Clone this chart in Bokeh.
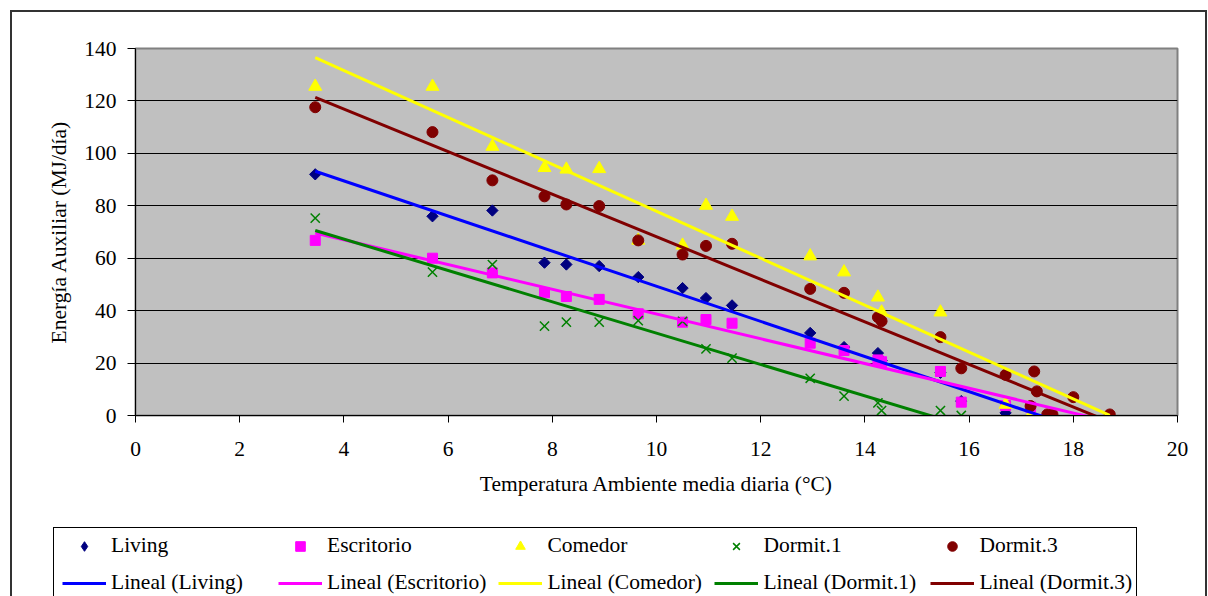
import math
from bokeh.plotting import figure
from bokeh.models import (Range1d, FixedTicker, Legend, LegendItem, InlineStyleSheet)
from bokeh.embed import file_html
from bokeh.resources import INLINE

# ---- data ----
living_x = [3.45, 5.7, 6.85, 7.85, 8.27, 8.9, 9.65, 10.5, 10.95, 11.45, 12.95, 13.6, 14.25, 14.32, 15.45, 15.85, 16.7]
living_y = [92.0, 76.0, 78.2, 58.3, 57.6, 57.0, 52.8, 48.6, 44.8, 42.0, 31.5, 26.1, 23.8, 21.0, 16.3, 5.5, 1.0]

escritorio_x = [3.45, 5.7, 6.85, 7.85, 8.27, 8.9, 9.65, 10.5, 10.95, 11.45, 12.95, 13.6, 14.25, 14.32, 15.45, 15.85, 16.7, 17.18]
escritorio_y = [66.8, 60.0, 54.4, 46.8, 45.4, 44.3, 38.8, 35.6, 36.6, 35.2, 27.6, 24.8, 21.2, 20.5, 16.8, 5.1, 3.8, 3.2]

comedor_x = [3.45, 5.7, 6.85, 7.85, 8.27, 8.9, 9.65, 10.5, 10.95, 11.45, 12.95, 13.6, 14.25, 14.32, 15.45, 16.7, 17.18]
comedor_y = [125.5, 125.5, 102.6, 94.5, 93.9, 94.1, 66.8, 64.9, 80.1, 75.9, 60.8, 54.7, 45.1, 39.4, 39.4, 4.2, 0.0]

dormit1_x = [3.45, 5.7, 6.85, 7.85, 8.27, 8.9, 9.65, 10.5, 10.95, 11.45, 12.95, 13.6, 14.25, 14.32, 15.45, 15.85]
dormit1_y = [75.3, 54.7, 57.6, 34.1, 35.6, 35.6, 36.2, 35.9, 25.4, 21.9, 14.2, 7.4, 4.8, 1.9, 1.9, 0.0]

dormit3_x = [3.45, 5.7, 6.85, 7.85, 8.27, 8.9, 9.65, 10.5, 10.95, 11.45, 12.95, 13.6, 14.25, 14.32, 15.45, 15.85,
             16.7, 17.18, 17.25, 17.3, 17.5, 17.6, 18.0, 18.7]
dormit3_y = [117.6, 108.1, 89.7, 83.6, 80.5, 79.9, 66.8, 61.4, 64.7, 65.5, 48.3, 46.8, 37.5, 36.0, 29.9, 18.0,
             15.5, 3.6, 16.8, 9.2, 0.4, 0.4, 7.0, 0.4]

series_names = ["Living", "Escritorio", "Comedor", "Dormit.1", "Dormit.3"]
# linear trend lines (Lineal): y = slope * x + intercept
trend_slope = [-6.70, -4.72, -8.95, -5.98, -8.12]
trend_intercept = [116.3, 85.9, 167.4, 91.2, 149.4]

x_ticks = [0, 2, 4, 6, 8, 10, 12, 14, 16, 18, 20]
y_ticks = [0, 20, 40, 60, 80, 100, 120, 140]

FONT = "Liberation Serif"
FS = "21.5px"

marker_styles = [
    dict(marker="square", angle=math.pi / 4, size=8, color="#000080"),
    dict(marker="square", size=10, color="#FF00FF"),
    dict(marker="triangle", size=13, color="#FFFF00"),
    dict(marker="x", size=13, line_color="#008000", line_width=1.5),
    dict(marker="circle", size=11, color="#800000"),
]
key_styles = [dict(marker="diamond", color="#000080")] + marker_styles[1:]
line_colors = ["#0000FF", "#FF00FF", "#FFFF00", "#008000", "#800000"]

series_x = [living_x, escritorio_x, comedor_x, dormit1_x, dormit3_x]
series_y = [living_y, escritorio_y, comedor_y, dormit1_y, dormit3_y]
x_lo = min(dormit3_x)
x_hi = max(dormit3_x)
trend_x = [x_lo, x_hi]
trend_y = [[m * x_lo + b, m * x_hi + b] for m, b in zip(trend_slope, trend_intercept)]

# ---------------- main chart ----------------
p = figure(width=1208, height=596, output_backend="svg", toolbar_location=None,
           x_range=Range1d(0, 20), y_range=Range1d(0, 140),
           min_border_left=135, min_border_right=31, min_border_top=48, min_border_bottom=181)
p.background_fill_color = "#C0C0C0"
p.border_fill_color = "white"
p.outline_line_color = "#808080"
p.outline_line_width = 2

p.xgrid.visible = False
p.ygrid.ticker = FixedTicker(ticks=y_ticks)
p.ygrid.grid_line_color = "#000000"
p.ygrid.grid_line_width = 1

for ax in (p.xaxis[0], p.yaxis[0]):
    ax.axis_line_color = "black"
    ax.major_tick_line_color = "black"
    ax.minor_tick_line_color = None
    ax.major_tick_in = 0
    ax.major_label_text_font = FONT
    ax.major_label_text_font_size = FS
    ax.major_label_text_color = "black"
    ax.axis_label_text_font = FONT
    ax.axis_label_text_font_size = FS
    ax.axis_label_text_font_style = "normal"
    ax.axis_label_text_color = "black"

p.xaxis.ticker = FixedTicker(ticks=x_ticks)
p.yaxis.ticker = FixedTicker(ticks=y_ticks)
p.xaxis.major_tick_out = 7
p.yaxis.major_tick_out = 8
p.xaxis.major_label_standoff = 19
p.yaxis.major_label_standoff = 11
p.xaxis.axis_label = "Temperatura Ambiente media diaria (°C)"
p.yaxis.axis_label = "Energía Auxiliar (MJ/día)"
p.xaxis.axis_label_standoff = 13
p.yaxis.axis_label_standoff = 10

for xs, ys, st in zip(series_x, series_y, marker_styles):
    p.scatter(xs, ys, **st)
for ys, c in zip(trend_y, line_colors):
    p.line(trend_x, ys, line_color=c, line_width=3)

p.stylesheets = [InlineStyleSheet(css="""
:host { position: relative; }
:host::before { content: ""; position: absolute; left: 10px; top: 10px; width: 1197px; height: 586px;
  border: 2px solid #333; border-bottom: none; box-sizing: border-box; pointer-events: none; z-index: 5; }
""")]

# ---------------- legend strip (overlaid on the bottom of the chart) ----------------
# its own ranges keep the key renderers' data out of view; only the legend shows
lg = figure(width=1208, height=76, output_backend="svg", toolbar_location=None,
            x_range=Range1d(-1000, -999), y_range=Range1d(-1000, -999),
            min_border_left=0, min_border_right=0, min_border_top=0, min_border_bottom=0,
            x_axis_type=None, y_axis_type=None)
lg.grid.visible = False
lg.outline_line_color = None
lg.background_fill_color = None
lg.border_fill_color = None

key_markers = [lg.scatter(xs, ys, **st) for xs, ys, st in zip(series_x, series_y, key_styles)]
key_lines = [lg.line(trend_x, ys, line_color=c, line_width=3) for ys, c in zip(trend_y, line_colors)]

items = [LegendItem(label=n, renderers=[r]) for n, r in zip(series_names, key_markers)]
items += [LegendItem(label="Lineal (%s)" % n, renderers=[r]) for n, r in zip(series_names, key_lines)]

legend = Legend(items=items, orientation="horizontal", ncols=5,
                location=(62, 1), padding=0, margin=0, spacing=12,
                glyph_width=44, glyph_height=24, label_height=24, label_width=155, label_standoff=5,
                label_text_font=FONT, label_text_font_size=FS, label_text_color="black",
                border_line_color=None, background_fill_alpha=0)
lg.add_layout(legend, "center")

lg.styles = {"position": "absolute", "left": "0px", "top": "520px"}
lg.stylesheets = [InlineStyleSheet(css="""
:host::after { content: ""; position: absolute; left: 53px; top: 7px; width: 1084px; height: 69px;
  border: 1.5px solid #000; border-bottom: none; box-sizing: border-box; pointer-events: none; z-index: 5; }
""")]

open("out.html", "w").write(file_html([p, lg], INLINE))
